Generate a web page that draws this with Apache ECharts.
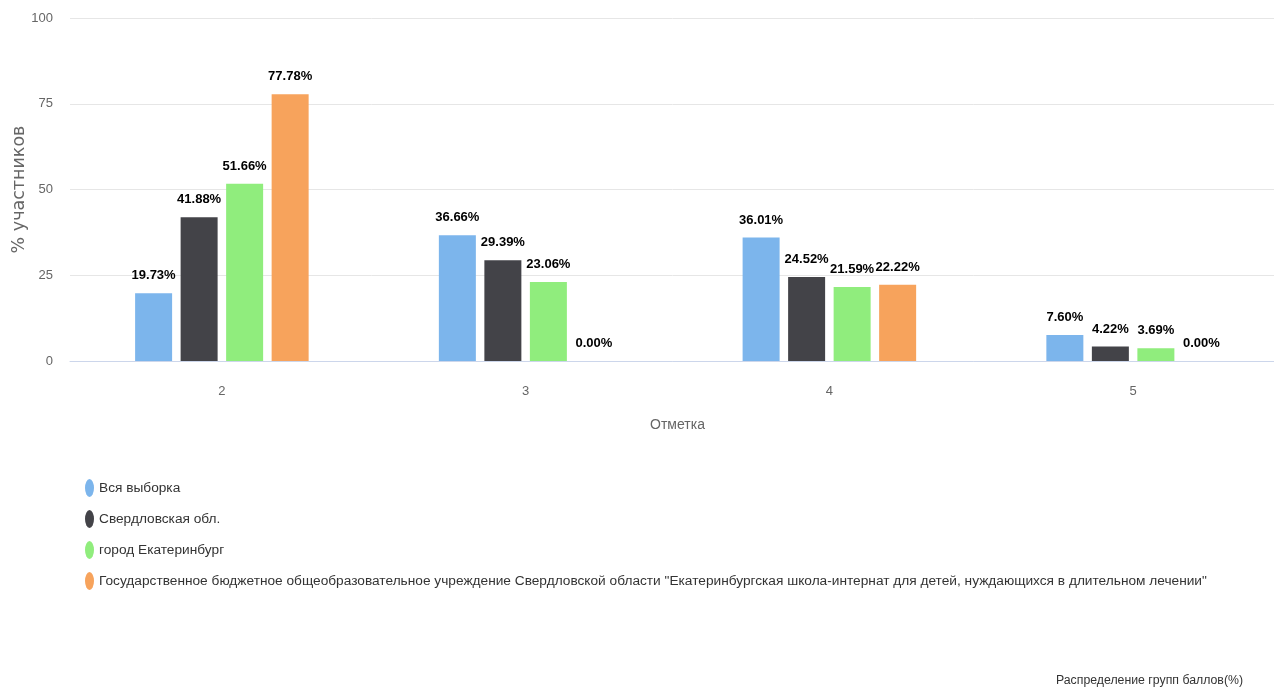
<!DOCTYPE html>
<html><head><meta charset="utf-8">
<script src="https://cdn.jsdelivr.net/npm/echarts@6/dist/echarts.min.js"></script>
<style>html,body{margin:0;padding:0;background:#fff}#c{width:1274px;height:690px}</style>
</head><body><div id="c"></div>
<script>
const categories = ['2', '3', '4', '5'];
const seriesNames = ['Вся выборка', 'Свердловская обл.', 'город Екатеринбург',
  'Государственное бюджетное общеобразовательное учреждение Свердловской области "Екатеринбургская школа-интернат для детей, нуждающихся в длительном лечении"'];
const vsyaVyborka = [19.73, 36.66, 36.01, 7.60];
const sverdlovskaya = [41.88, 29.39, 24.52, 4.22];
const ekaterinburg = [51.66, 23.06, 21.59, 3.69];
const shkola = [77.78, 0.00, 22.22, 0.00];
const yTicks = [0, 25, 50, 75, 100];
const colors = ['#7cb5ec', '#434348', '#90ed7d', '#f7a35c'];
const FONT = "'Liberation Sans', Arial, sans-serif";

const allData = [vsyaVyborka, sverdlovskaya, ekaterinburg, shkola];
const chart = echarts.init(document.getElementById('c'));
chart.setOption({
  animation: false,
  color: colors,
  title: {
    text: 'Распределение групп баллов(%)',
    right: 26, bottom: -2,
    textStyle: {fontFamily: FONT, fontSize: 12.3, fontWeight: 'normal', color: '#333'}
  },
  legend: {
    orient: 'vertical', left: 80, top: 474,
    icon: 'path://M4.5,0 A4.5,9 0 1,1 4.5,18 A4.5,9 0 1,1 4.5,0 Z',
    itemWidth: 9, itemHeight: 18, itemGap: 13, itemStyle: {borderWidth: 0},
    textStyle: {fontFamily: FONT, fontSize: 13.7, color: '#333'},
    data: seriesNames
  },
  grid: {left: 70, right: -11, top: 18, bottom: 329, outerBoundsMode: 'none', containLabel: false},
  xAxis: {
    type: 'category', data: categories,
    name: 'Отметка', nameLocation: 'middle', nameGap: 57, nameMoveOverlap: false,
    nameTextStyle: {fontFamily: FONT, fontSize: 14, color: '#666'},
    axisLine: {lineStyle: {color: '#ccd6eb'}},
    axisTick: {show: false},
    axisLabel: {fontFamily: FONT, fontSize: 13, color: '#666', margin: 24}
  },
  yAxis: {
    type: 'value', min: yTicks[0], max: yTicks[yTicks.length - 1], interval: 25,
    name: '% участников', nameLocation: 'middle', nameGap: 42, nameMoveOverlap: false,
    nameTextStyle: {fontFamily: "'DejaVu Sans', sans-serif", fontSize: 17.5, color: '#666'},
    axisLine: {show: false}, axisTick: {show: false},
    splitLine: {lineStyle: {color: '#e6e6e6'}},
    axisLabel: {fontFamily: FONT, fontSize: 13, color: '#666', margin: 17}
  },
  series: allData.map((d, i) => ({
    name: seriesNames[i], type: 'bar', data: d,
    barWidth: 37, barGap: '23%',
    label: {
      show: true, position: 'top', distance: 11,
      formatter: p => p.value.toFixed(2) + '%',
      fontFamily: FONT, fontSize: 13, fontWeight: 'bold', color: '#000'
    }
  }))
});
</script></body></html>
